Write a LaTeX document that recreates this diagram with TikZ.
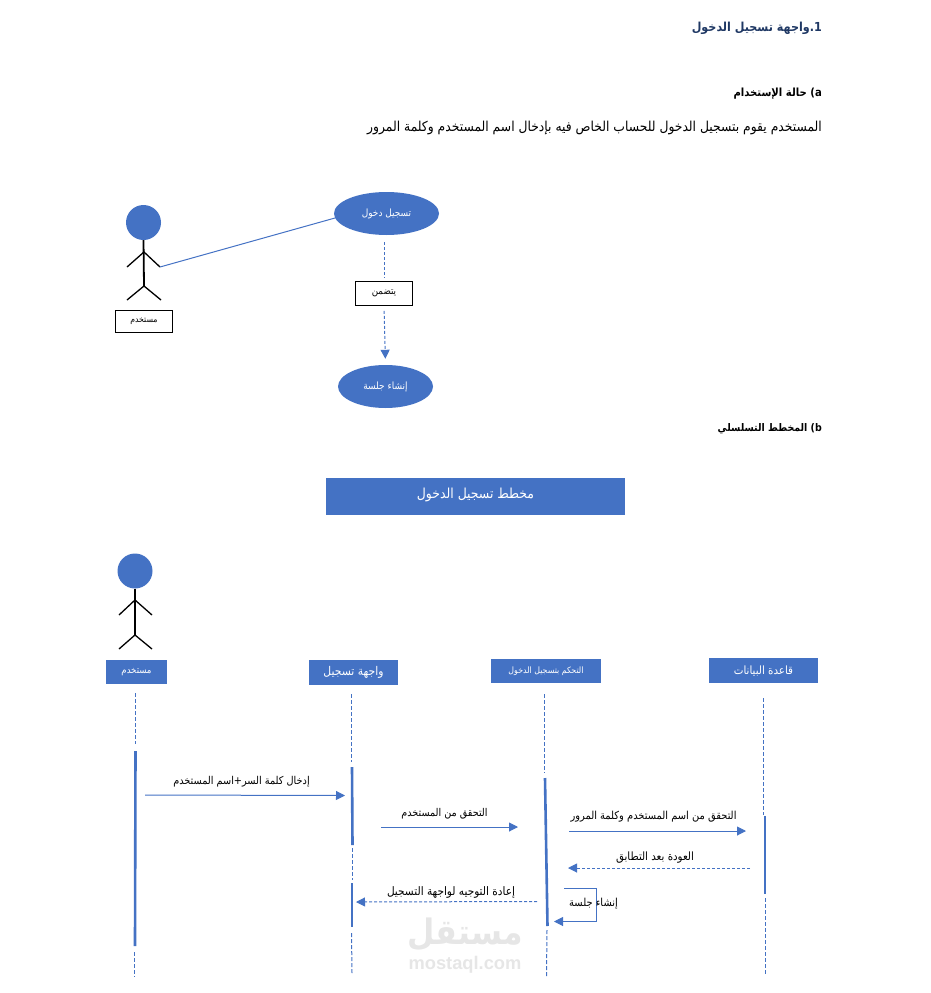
\documentclass[tikz,border=0pt]{standalone}
\usepackage{fontspec}
\usetikzlibrary{arrows.meta,shapes.geometric}
\TeXXeTstate=1
\setmainfont{Liberation Sans}
\newfontfamily\arabicfont[Script=Arabic,FakeStretch=0.9]{DejaVu Sans}
\newcommand\artxt[1]{\arabicfont\beginR #1\endR}
\newcommand\fsz[1]{\fontsize{#1}{#1}\selectfont}
\definecolor{uml}{HTML}{4472C4}
\definecolor{navy}{HTML}{1F3864}
\definecolor{wm}{HTML}{E6E6E6}
\tikzset{
  inkline/.style={draw=uml,line width=1pt},
  lifeline/.style={inkline,dash pattern=on 4pt off 2pt},
  activation/.style={draw=uml,line width=2.6pt},
  solidmsg/.style={inkline,-{Triangle[length=9pt,width=9pt]}},
  dashmsg/.style={inkline,dash pattern=on 3pt off 2pt,-{Triangle[length=9pt,width=9pt]}},
  head/.style={circle,fill=uml,minimum size=35pt,inner sep=0pt},
  limb/.style={draw=black,line width=1.3pt},
  spine/.style={draw=black,line width=1.8pt},
  usecase/.style={ellipse,fill=uml,text=white,inner sep=0pt,font=\fsz{10}},
  labelbox/.style={draw=black,line width=0.9pt,fill=white,inner sep=0pt},
  headerbox/.style={fill=uml,text=white,inner sep=0pt},
  msg/.style={inner sep=0pt,font=\fsz{11}},
  heading/.style={anchor=east,inner sep=0pt,font=\bfseries\fsz{10.5}}
}
\begin{document}
\begin{tikzpicture}[x=1pt,y=-1pt]
\useasboundingbox (0,0) rectangle (931,993);
% headings
\node[heading,text=navy,font=\bfseries\fsz{12.4}] (h1) at (822,28) {\artxt{1.واجهة تسجيل الدخول}};
\node[heading,font=\bfseries\fsz{11.2}] (h2) at (822,94) {\artxt{\beginL (a\endL{} حالة الإستخدام}};
\node[anchor=east,inner sep=0pt,font=\fsz{13.7}] (body) at (822,128) {\artxt{المستخدم يقوم بتسجيل الدخول للحساب الخاص فيه بإدخال اسم المستخدم وكلمة المرور}};
\node[heading] (h3) at (822,429) {\artxt{\beginL (b\endL{} المخطط التسلسلي}};
% use case actor
\node[head] (ua) at (143.5,222.5) {};
\coordinate (uneck) at (144,252);
\coordinate (uhip) at (144,286);
\coordinate (uhandl) at (127,267);
\coordinate (uhandr) at (160,267);
\coordinate (ufootl) at (127,300);
\coordinate (ufootr) at (161,300);
\draw[spine] (ua.south) -- (uhip);
\draw[limb] (uhandl) -- (uneck) -- (uhandr);
\draw[limb] (ufootl) -- (uhip) -- (ufootr);
\node[labelbox,minimum width=57pt,minimum height=22pt,font=\fsz{8.6}] (ulabel) at (144,321) {\artxt{مستخدم}};
% use cases
\node[usecase,minimum width=105pt,minimum height=43pt] (uc1) at (386.5,213.5) {\artxt{تسجيل دخول}};
\node[usecase,minimum width=95pt,minimum height=43pt] (uc2) at (385.5,386.5) {\artxt{إنشاء جلسة}};
\node[labelbox,minimum width=57pt,minimum height=24pt,font=\fsz{9.7}] (inc) at (384,293.5) {\artxt{يتضمن}};
\draw[inkline] (uhandr) -- (uc1.185);
\draw[inkline,dash pattern=on 3pt off 2pt,shorten <=7pt,shorten >=3pt] (uc1.south -| inc) -- (inc.north);
\draw[dashmsg,shorten <=5pt,shorten >=6pt] (inc.south) -- (uc2.north);
% banner
\node[headerbox,minimum width=299pt,minimum height=37pt,font=\fsz{13.8}] (banner) at (475.5,496.5) {\raisebox{6pt}{\artxt{مخطط تسجيل الدخول}}};
% sequence actor
\node[head] (sa) at (135,571) {};
\coordinate (sneck) at (135,600);
\coordinate (ship) at (135,635);
\coordinate (shandl) at (119,615);
\coordinate (shandr) at (152,615);
\coordinate (sfootl) at (119,649);
\coordinate (sfootr) at (152,649);
\draw[spine] (sa.south) -- (ship);
\draw[limb] (shandl) -- (sneck) -- (shandr);
\draw[limb] (sfootl) -- (ship) -- (sfootr);
% headers
\node[headerbox,minimum width=61pt,minimum height=24pt,font=\fsz{9.5}] (p1) at (136.5,672) {\artxt{مستخدم}};
\node[headerbox,minimum width=89pt,minimum height=25pt,font=\fsz{12}] (p2) at (353.5,672.5) {\artxt{واجهة تسجيل}};
\node[headerbox,minimum width=110pt,minimum height=24pt,font=\fsz{8.75}] (p3) at (546,671) {\artxt{التحكم بتسجيل الدخول}};
\node[headerbox,minimum width=109pt,minimum height=25pt,font=\fsz{11.4}] (p4) at (763.5,670.5) {\artxt{قاعدة البيانات}};
% lifeline points
\coordinate (l1a) at (135.5,693); \coordinate (l1b) at (135.5,744);
\coordinate (a1a) at (135.5,751); \coordinate (a1b) at (135,946);
\coordinate (l1c) at (134.5,952); \coordinate (l1d) at (134.5,977);
\coordinate (l2a) at (351.5,694); \coordinate (l2b) at (351.5,762);
\coordinate (a2a) at (352,767);   \coordinate (a2b) at (352.5,845);
\coordinate (l2c) at (352,848);   \coordinate (l2d) at (352,880);
\coordinate (a2c) at (352,883);   \coordinate (a2d) at (352,927);
\coordinate (l2e) at (351.5,933); \coordinate (l2f) at (352,973);
\coordinate (l3a) at (544.5,694); \coordinate (l3b) at (544.5,773);
\coordinate (a3a) at (545,778);   \coordinate (a3b) at (547.5,926);
\coordinate (l3c) at (547,930);   \coordinate (l3d) at (546.5,976);
\coordinate (l4a) at (763.5,698); \coordinate (l4b) at (763.5,815);
\coordinate (a4a) at (765,816);   \coordinate (a4b) at (765,894);
\coordinate (l4c) at (765.5,898); \coordinate (l4d) at (765.5,974);
\draw[lifeline] (l1a) -- (l1b);
\draw[lifeline] (l1c) -- (l1d);
\draw[lifeline] (l2a) -- (l2b);
\draw[lifeline] (l2c) -- (l2d);
\draw[lifeline] (l2e) -- (l2f);
\draw[lifeline] (l3a) -- (l3b);
\draw[lifeline] (l3c) -- (l3d);
\draw[lifeline] (l4a) -- (l4b);
\draw[lifeline] (l4c) -- (l4d);
\draw[activation] (a1a) -- (a1b);
\draw[activation] (a2a) -- (a2b);
\draw[activation] (a2c) -- (a2d);
\draw[activation] (a3a) -- (a3b);
\draw[activation] (a4a) -- (a4b);
% messages
\coordinate (m1a) at (145,795);   \coordinate (m1b) at (345,795.5);
\coordinate (m2a) at (381,827);   \coordinate (m2b) at (518,827);
\coordinate (m3a) at (569,831);   \coordinate (m3b) at (746,831);
\coordinate (m4a) at (750,868);   \coordinate (m4b) at (568,868);
\coordinate (m5a) at (537,901.5); \coordinate (m5b) at (356,902);
\coordinate (m6a) at (564,888);   \coordinate (m6c) at (596,888);
\coordinate (m6d) at (596,921.5); \coordinate (m6b) at (554,921.5);
\draw[solidmsg] (m1a) -- (m1b);
\draw[solidmsg] (m2a) -- (m2b);
\draw[solidmsg] (m3a) -- (m3b);
\draw[dashmsg] (m4a) -- (m4b);
\draw[dashmsg] (m5a) -- (m5b);
\draw[solidmsg] (m6a) -- (m6c) -- (m6d) -- (m6b);
\node[msg,font=\fsz{10.8}] (t1) at (241.5,782) {\artxt{إدخال كلمة السر+اسم المستخدم}};
\node[msg,font=\fsz{10.7}] (t2) at (444.5,814) {\artxt{التحقق من المستخدم}};
\node[msg] (t3) at (653.5,817) {\artxt{التحقق من اسم المستخدم وكلمة المرور}};
\node[msg,font=\fsz{11.4}] (t4) at (655,858) {\artxt{العودة بعد التطابق}};
\node[msg,font=\fsz{11.7}] (t5) at (451,892) {\artxt{إعادة التوجيه لواجهة التسجيل}};
\node[msg] (t6) at (593.5,904) {\artxt{إنشاء جلسة}};
% watermark
\node[inner sep=0pt,text=wm,font=\bfseries\fsz{35}] (wm1) at (465,934) {\artxt{مستقل}};
\node[inner sep=0pt,text=wm,font=\bfseries\fsz{18.3}] (wm2) at (465,964.5) {mostaql.com};
\end{tikzpicture}
\end{document}
